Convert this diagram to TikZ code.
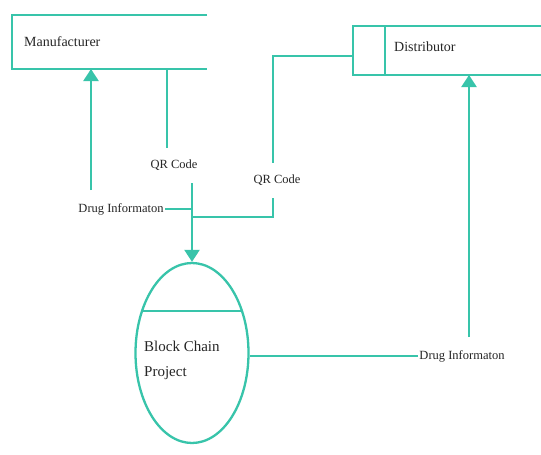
\documentclass[tikz,border=0pt]{standalone}
\usepackage{fontspec}
\setmainfont{Liberation Serif}
\usetikzlibrary{arrows.meta,shapes.geometric}
\definecolor{tealc}{RGB}{56,196,170}
\begin{document}
\begin{tikzpicture}[x=1pt,y=-1pt,
  flow/.style={draw=tealc,line width=2.3pt},
  arr/.style={-{Triangle[width=15pt,length=12pt]}},
  lbl/.style={font=\fontsize{12.5}{14}\selectfont,inner sep=1pt,text=black!85},
  big/.style={font=\fontsize{14}{16}\selectfont,inner sep=0pt,text=black!85}]
\useasboundingbox (0,0) rectangle (541,455);
\fill[white] (0,0) rectangle (541,455);
% Manufacturer store
\draw[flow] (207,15) -- (12,15) -- (12,69) -- (207,69);
\node[big,anchor=west] (mtext) at (24,42) {Manufacturer};
% Distributor store
\draw[flow] (541,26) -- (353,26) -- (353,75) -- (541,75);
\draw[flow] (385,26) -- (385,75);
\node[big,anchor=west] (dtext) at (394,47) {Distributor};
% Process
\node[ellipse,flow,minimum width=113pt,minimum height=180pt,inner sep=0pt] (bc) at (192,353) {};
\draw[flow] (142,311) -- (242,311);
\node[anchor=west,align=left,inner sep=0pt,font=\fontsize{15}{25}\selectfont,text=black!85] (bctext) at (144,360) {Block Chain\\Project};
% labels
\node[lbl] (di1) at (121,209) {Drug Informaton};
\node[lbl] (qr1) at (174,165) {QR Code};
\node[lbl] (qr2) at (277,180) {QR Code};
\node[lbl] (di2) at (462,356) {Drug Informaton};
\coordinate (j1) at (192,209);
\coordinate (j2) at (192,217);
% Drug info to Manufacturer
\draw[flow] (j1) -- (di1.east);
\draw[flow,arr] (91,190) -- (91,69);
% QR code from Manufacturer
\draw[flow] (167,69) -- (167,148);
\draw[flow,arr] (192,183) -- (bc.north);
% QR code from Distributor
\draw[flow] (353,56) -- (273,56) -- (273,163);
\draw[flow] (273,198) -- (273,217) -- (j2);
% Drug info to Distributor
\draw[flow] (bc.east |- di2.west) -- (di2.west);
\draw[flow,arr] (469,337) -- (469,75);
\end{tikzpicture}
\end{document}
